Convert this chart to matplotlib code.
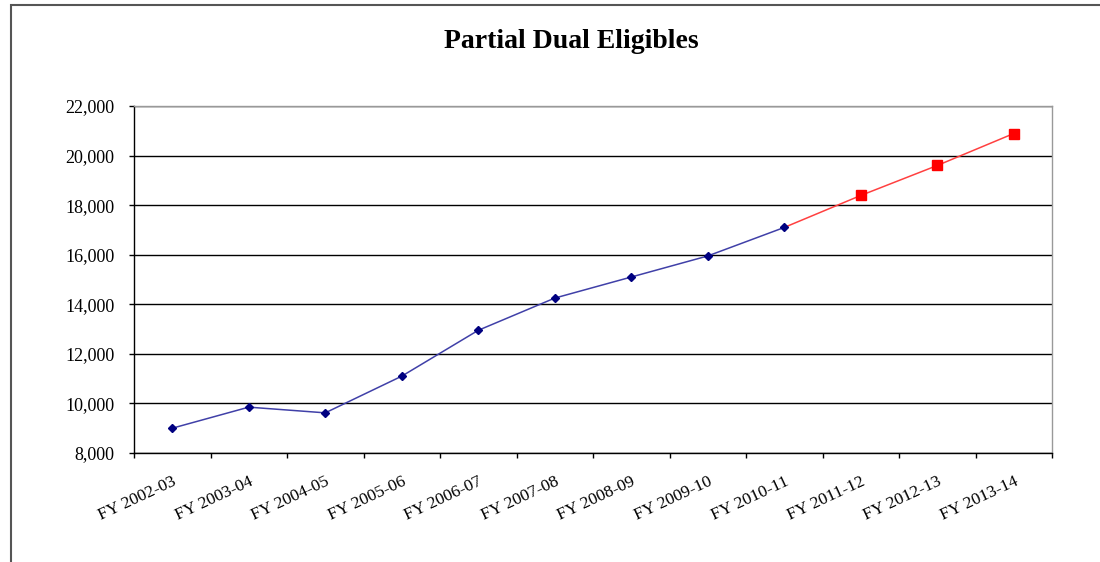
import matplotlib.pyplot as plt
from matplotlib.patches import Rectangle
import numpy as np

years = ['FY 2002-03', 'FY 2003-04', 'FY 2004-05', 'FY 2005-06', 'FY 2006-07',
         'FY 2007-08', 'FY 2008-09', 'FY 2009-10', 'FY 2010-11', 'FY 2011-12',
         'FY 2012-13', 'FY 2013-14']
actual = [9000, 9850, 9620, 11100, 12950, 14250, 15100, 15950, 17100]
projected = [17100, 18390, 19600, 20890]  # starts from last actual year

plt.rcParams['font.family'] = ['Liberation Serif', 'DejaVu Serif']

fig = plt.figure(figsize=(11, 5.62), dpi=100)
fig.patches.append(Rectangle((11 / 1100, -0.05), 1.2, 1 - 5 / 562 + 0.05,
                             transform=fig.transFigure, fill=False,
                             edgecolor='#555555', linewidth=1.5))

ax = fig.add_axes([134 / 1100, 1 - 453 / 562, (1052 - 134) / 1100, (453 - 106) / 562])

x = np.arange(len(years))
x_act = x[:len(actual)]
x_proj = x[len(actual) - 1:]

ax.plot(x_proj, projected, color='#ff4040', linewidth=1.1, zorder=3)
ax.plot(x_proj[1:], projected[1:], linestyle='none', marker='s', markersize=6.5,
        color='#ff0000', zorder=4)
ax.plot(x_act, actual, color='#4040a8', linewidth=1.1, marker='D', markersize=4.5,
        markerfacecolor='#000080', markeredgecolor='#000080', zorder=5)

ax.set_xlim(-0.5, len(years) - 0.5)
ax.set_ylim(8000, 22000)
ax.set_yticks(np.arange(8000, 22001, 2000))
ax.set_yticklabels([f'{v:,}' for v in range(8000, 22001, 2000)], fontsize=13)
ax.grid(axis='y', color='black', linewidth=1)
ax.set_axisbelow(True)

# ticks at category boundaries, labels at centres
ax.set_xticks(np.arange(-0.5, len(years), 1))
ax.set_xticklabels([])
ax.set_xticks(x, minor=True)
ax.set_xticklabels(years, minor=True, rotation=25, ha='right',
                   rotation_mode='anchor', fontsize=12.5)
ax.tick_params(axis='x', which='minor', length=0, pad=15)
ax.tick_params(axis='x', which='major', length=3.6, width=1, direction='out')
ax.tick_params(axis='y', length=3.6, width=1, direction='out', pad=10.5)

for s in ['left', 'bottom']:
    ax.spines[s].set_color('black')
    ax.spines[s].set_linewidth(1)
for s in ['top', 'right']:
    ax.spines[s].set_color('#999999')
    ax.spines[s].set_linewidth(1)

fig.text(571 / 1100, 1 - 42 / 562, 'Partial Dual Eligibles', ha='center', va='center',
         fontsize=20, fontweight='bold')

fig.savefig('out.png', dpi=100)
